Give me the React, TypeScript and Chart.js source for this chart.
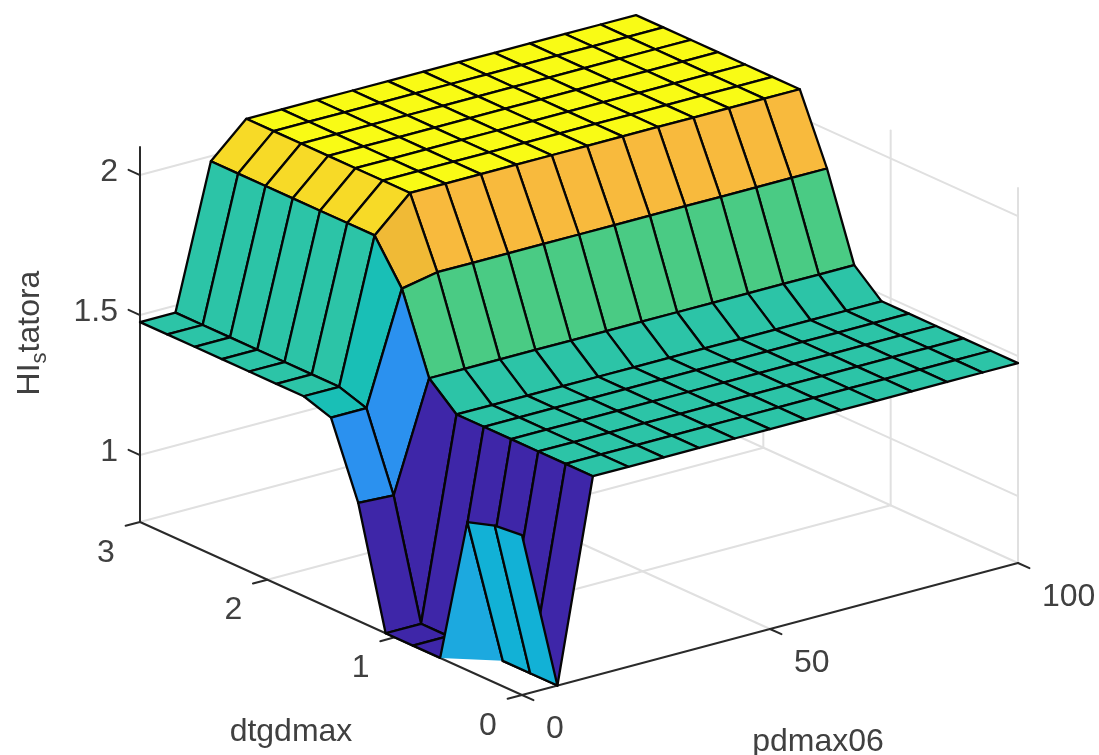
import React, { useEffect, useRef } from "react";
import { Chart, registerables } from "chart.js";

Chart.register(...registerables);

// Axis ticks and labels
const pdTicks = [0, 50, 100];
const dtgTicks = [0, 1, 2, 3];
const zTicks = [1, 1.5, 2];
const zTickLabels = ["1", "1.5", "2"];
const pdLabel = "pdmax06";
const dtgLabel = "dtgdmax";

// Sample positions of the surface
const pdSamples = [0, 7.14, 14.29, 21.43, 28.57, 35.71, 42.86, 50, 57.14, 64.29, 71.43, 78.57, 85.71, 92.86, 100];
const dtgSamples = [0, 0.214, 0.429, 0.643, 0.857, 1.071, 1.286, 1.5, 1.714, 1.929, 2.143, 2.357, 2.571, 2.786, 3];

// Surface height, one list per dtgdmax sample, along pdmax06
const zDtg00 = [1.332, 0.761, 1.475, 1.475, 1.475, 1.475, 1.475, 1.475, 1.475, 1.475, 1.475, 1.475, 1.475, 1.475, 1.475];
const zDtg01 = [1.322, 0.761, 1.475, 1.475, 1.475, 1.475, 1.475, 1.475, 1.475, 1.475, 1.475, 1.475, 1.475, 1.475, 1.475];
const zDtg02 = [1.29, 0.761, 1.475, 1.475, 1.475, 1.475, 1.475, 1.475, 1.475, 1.475, 1.475, 1.475, 1.475, 1.475, 1.475];
const zDtg03 = [0.761, 0.745, 1.475, 1.475, 1.475, 1.475, 1.475, 1.475, 1.475, 1.475, 1.475, 1.475, 1.475, 1.475, 1.475];
const zDtg04 = [0.761, 0.761, 1.475, 1.475, 1.475, 1.475, 1.475, 1.475, 1.475, 1.475, 1.475, 1.475, 1.475, 1.475, 1.475];
const zDtg05 = [0.761, 0.761, 1.475, 1.475, 1.475, 1.475, 1.475, 1.475, 1.475, 1.475, 1.475, 1.475, 1.475, 1.475, 1.475];
const zDtg06 = [1.182, 1.175, 1.56, 1.56, 1.56, 1.56, 1.56, 1.56, 1.56, 1.56, 1.56, 1.56, 1.56, 1.56, 1.56];
const zDtg07 = [1.443, 1.443, 1.836, 1.861, 1.861, 1.861, 1.861, 1.861, 1.861, 1.861, 1.861, 1.861, 1.861, 1.861, 1.861];
const zDtg08 = [1.475, 1.475, 1.982, 2.1, 2.1, 2.1, 2.1, 2.1, 2.1, 2.1, 2.1, 2.1, 2.1, 2.1, 2.1];
const zDtg09 = [1.475, 1.475, 1.982, 2.1, 2.1, 2.1, 2.1, 2.1, 2.1, 2.1, 2.1, 2.1, 2.1, 2.1, 2.1];
const zDtg10 = [1.475, 1.475, 1.982, 2.1, 2.1, 2.1, 2.1, 2.1, 2.1, 2.1, 2.1, 2.1, 2.1, 2.1, 2.1];
const zDtg11 = [1.475, 1.475, 1.982, 2.1, 2.1, 2.1, 2.1, 2.1, 2.1, 2.1, 2.1, 2.1, 2.1, 2.1, 2.1];
const zDtg12 = [1.475, 1.475, 1.982, 2.1, 2.1, 2.1, 2.1, 2.1, 2.1, 2.1, 2.1, 2.1, 2.1, 2.1, 2.1];
const zDtg13 = [1.475, 1.475, 1.982, 2.1, 2.1, 2.1, 2.1, 2.1, 2.1, 2.1, 2.1, 2.1, 2.1, 2.1, 2.1];
const zDtg14 = [1.475, 1.475, 1.982, 2.1, 2.1, 2.1, 2.1, 2.1, 2.1, 2.1, 2.1, 2.1, 2.1, 2.1, 2.1];
const surfaceRows = [zDtg00, zDtg01, zDtg02, zDtg03, zDtg04, zDtg05, zDtg06, zDtg07, zDtg08, zDtg09, zDtg10, zDtg11, zDtg12, zDtg13, zDtg14];

// Parula colour map
const parula: number[][] = [
  [0.2422, 0.1504, 0.6603], [0.2504, 0.165, 0.7076], [0.2578, 0.1818, 0.7511], [0.2647, 0.1978, 0.7952],
  [0.2706, 0.2147, 0.8364], [0.2751, 0.2342, 0.871], [0.2783, 0.2559, 0.8991], [0.2803, 0.2782, 0.9221],
  [0.2813, 0.3006, 0.9414], [0.281, 0.3228, 0.9579], [0.2795, 0.3447, 0.9717], [0.276, 0.3667, 0.9829],
  [0.2699, 0.3892, 0.9906], [0.2602, 0.4123, 0.9952], [0.244, 0.4358, 0.9988], [0.2206, 0.4603, 0.9973],
  [0.1963, 0.4847, 0.9892], [0.1834, 0.5074, 0.9798], [0.1786, 0.5289, 0.9682], [0.1764, 0.5499, 0.952],
  [0.1687, 0.5703, 0.9359], [0.154, 0.5902, 0.9218], [0.146, 0.6091, 0.9079], [0.138, 0.6276, 0.8973],
  [0.1248, 0.6459, 0.8883], [0.1113, 0.6635, 0.8763], [0.0952, 0.6798, 0.8598], [0.0689, 0.6948, 0.8394],
  [0.0297, 0.7082, 0.8163], [0.0036, 0.7203, 0.7917], [0.0067, 0.7312, 0.766], [0.0433, 0.7411, 0.7394],
  [0.0964, 0.75, 0.712], [0.1408, 0.7584, 0.6842], [0.1717, 0.767, 0.6554], [0.1938, 0.7758, 0.6251],
  [0.2161, 0.7843, 0.5923], [0.247, 0.7918, 0.5567], [0.2906, 0.7973, 0.5188], [0.3406, 0.8008, 0.4789],
  [0.3909, 0.8029, 0.4354], [0.4456, 0.8024, 0.3909], [0.5044, 0.7993, 0.348], [0.5616, 0.7942, 0.3045],
  [0.6174, 0.7876, 0.2612], [0.672, 0.7793, 0.2227], [0.7242, 0.7698, 0.191], [0.7738, 0.7598, 0.1646],
  [0.8203, 0.7498, 0.1535], [0.8634, 0.7406, 0.1596], [0.9035, 0.733, 0.1774], [0.9393, 0.7288, 0.21],
  [0.9728, 0.7298, 0.2394], [0.9956, 0.7434, 0.2371], [0.997, 0.7659, 0.2199], [0.9952, 0.7861, 0.1999],
  [0.9892, 0.8086, 0.1816], [0.9786, 0.8303, 0.1658], [0.9676, 0.853, 0.1517], [0.961, 0.8762, 0.1347],
  [0.9597, 0.9006, 0.1162], [0.9628, 0.9279, 0.0956], [0.9691, 0.9559, 0.0715], [0.9769, 0.9839, 0.0805],
];

// Axis limits and the view
const pdMax = 100;
const dtgMax = 3;
const zFloor = 0.761;
const zTop = 2.1;
const W = 1099;
const H = 755;
const view = {
  ox: 522, oy: 695,
  pdX: 496 / pdMax, pdY: -132 / pdMax,
  dtgX: -382 / dtgMax, dtgY: -173 / dtgMax,
  zY: -280,
};

const AXIS = "#2a2a2a";
const INK = "#404040";
const GRID = "#e0e0e0";
const EDGE = "#050505";
const EDGE_WIDTH = 2.3;
const FAMILY = '"Liberation Sans", Arial, sans-serif';
const FONT = `32px ${FAMILY}`;

type P3 = { pd: number; dtg: number; z: number };

function project(pd: number, dtg: number, z: number) {
  return {
    x: view.ox + pd * view.pdX + dtg * view.dtgX,
    y: view.oy + pd * view.pdY + dtg * view.dtgY + (z - zFloor) * view.zY,
  };
}
const proj = (p: P3) => project(p.pd, p.dtg, p.z);

const allZ = surfaceRows.flat();
const zLo = Math.min(...allZ);
const zHi = Math.max(...allZ);

function colorFor(z: number) {
  const t = (z - zLo) / (zHi - zLo);
  const c = parula[Math.min(63, Math.floor(t * 64))];
  return `rgb(${Math.round(c[0] * 255)},${Math.round(c[1] * 255)},${Math.round(c[2] * 255)})`;
}

function lineSet(points: { x: number; y: number }[], color: string, width: number) {
  return {
    data: points,
    showLine: true,
    fill: false,
    borderColor: color,
    borderWidth: width,
    pointRadius: 0,
    tension: 0,
    spanGaps: false,
    borderCapStyle: "round" as const,
    clip: false as const,
  };
}

function clipFace(verts: P3[]) {
  const poly: P3[] = [];
  const edges: { x: number; y: number }[] = [];
  let clipped = false;
  const cross = (a: P3, b: P3): P3 => {
    const t = (zFloor - a.z) / (b.z - a.z);
    return { pd: a.pd + (b.pd - a.pd) * t, dtg: a.dtg + (b.dtg - a.dtg) * t, z: zFloor };
  };
  verts.forEach((a, k) => {
    const b = verts[(k + 1) % verts.length];
    const aIn = a.z >= zFloor;
    const bIn = b.z >= zFloor;
    if (aIn) poly.push(a);
    if (aIn && bIn) {
      edges.push(proj(a), proj(b), { x: NaN, y: NaN });
    } else if (aIn !== bIn) {
      clipped = true;
      const c = cross(a, b);
      poly.push(c);
      edges.push(proj(aIn ? a : c), proj(aIn ? c : b), { x: NaN, y: NaN });
    } else {
      clipped = true;
    }
  });
  return { poly, edges, clipped };
}

function buildDatasets() {
  const sets: any[] = [];
  const grid = (a: number[], b: number[]) =>
    sets.push(lineSet([project(a[0], a[1], a[2]), project(b[0], b[1], b[2])], GRID, 2));

  // floor grid
  dtgTicks.slice(1).forEach((d) => grid([0, d, zFloor], [pdMax, d, zFloor]));
  pdTicks.slice(1).forEach((p) => grid([p, 0, zFloor], [p, dtgMax, zFloor]));
  // back wall at dtgdmax = 3
  pdTicks.slice(1).forEach((p) => grid([p, dtgMax, zFloor], [p, dtgMax, zTop]));
  zTicks.forEach((z) => grid([0, dtgMax, z], [pdMax, dtgMax, z]));
  // side wall at pdmax06 = 100
  dtgTicks.forEach((d) => grid([pdMax, d, zFloor], [pdMax, d, zTop]));
  zTicks.forEach((z) => grid([pdMax, 0, z], [pdMax, dtgMax, z]));

  // axis lines and ticks
  const ruler = (pts: { x: number; y: number }[]) => sets.push(lineSet(pts, AXIS, 2));
  ruler([project(0, dtgMax, zFloor), project(0, dtgMax, zTop)]);
  ruler([project(0, dtgMax, zFloor), project(0, 0, zFloor)]);
  ruler([project(0, 0, zFloor), project(pdMax, 0, zFloor)]);
  zTicks.forEach((z) => ruler([project(0, dtgMax, z), project(0, dtgMax + 0.09, z)]));
  dtgTicks.forEach((d) => ruler([project(0, d, zFloor), project(-2.9, d, zFloor)]));
  pdTicks.forEach((p) => ruler([project(p, 0, zFloor), project(p, -0.09, zFloor)]));

  // surface faces from far to near
  for (let i = pdSamples.length - 2; i >= 0; i--) {
    for (let j = dtgSamples.length - 2; j >= 0; j--) {
      const v = (a: number, b: number): P3 => ({ pd: pdSamples[a], dtg: dtgSamples[b], z: surfaceRows[b][a] });
      const { poly, edges, clipped } = clipFace([v(i, j), v(i + 1, j), v(i + 1, j + 1), v(i, j + 1)]);
      const color = colorFor(surfaceRows[j][i]);
      const pts = poly.map(proj);
      sets.push({
        ...lineSet([...pts, pts[0]], clipped ? color : EDGE, clipped ? 0 : EDGE_WIDTH),
        fill: "shape",
        backgroundColor: color,
        borderJoinStyle: "round",
      });
      if (clipped) sets.push(lineSet(edges, EDGE, EDGE_WIDTH));
    }
  }
  return sets.reverse();
}

const textPlugin = {
  id: "axisText",
  afterDraw(chart: any) {
    const { ctx, scales } = chart;
    const put = (t: string, p: { x: number; y: number }, dx: number, dy: number, align: CanvasTextAlign) => {
      ctx.textAlign = align;
      ctx.fillText(t, scales.x.getPixelForValue(p.x) + dx, scales.y.getPixelForValue(p.y) + dy);
    };
    ctx.save();
    ctx.font = FONT;
    ctx.fillStyle = INK;
    ctx.textBaseline = "middle";
    zTicks.forEach((z, k) => put(zTickLabels[k], project(0, dtgMax, z), -22, -3, "right"));
    dtgTicks.forEach((d) => put(String(d), project(0, d, zFloor), -34, 31, "center"));
    pdTicks.forEach((p) => put(String(p), project(p, 0, zFloor), 24, 34, "left"));

    ctx.textAlign = "center";
    ctx.fillText(dtgLabel, 291, 732);
    ctx.fillText(pdLabel, 818, 742);
    ctx.translate(30, 333);
    ctx.rotate(-Math.PI / 2);
    ctx.textAlign = "left";
    const w1 = ctx.measureText("HI").width;
    const w2 = ctx.measureText("tatora").width;
    ctx.font = `22px ${FAMILY}`;
    const ws = ctx.measureText("s").width;
    const start = -(w1 + ws + w2) / 2;
    ctx.fillText("s", start + w1, 10);
    ctx.font = FONT;
    ctx.fillText("HI", start, 0);
    ctx.fillText("tatora", start + w1 + ws, 0);
    ctx.restore();
  },
};

export default function App() {
  const ref = useRef<HTMLCanvasElement>(null);
  useEffect(() => {
    if (!ref.current) return;
    const chart = new Chart(ref.current, {
      type: "scatter",
      data: { datasets: buildDatasets() },
      options: {
        animation: false,
        responsive: false,
        devicePixelRatio: 1,
        events: [],
        layout: { padding: 0 },
        plugins: { legend: { display: false }, tooltip: { enabled: false }, title: { display: false } },
        scales: {
          x: { type: "linear", min: 0, max: W, display: false },
          y: { type: "linear", min: 0, max: H, reverse: true, display: false },
        },
      },
      plugins: [textPlugin],
    });
    return () => chart.destroy();
  }, []);
  return (
    <div style={{ position: "fixed", left: 0, top: 0, width: W, height: H, background: "#fff" }}>
      <canvas ref={ref} width={W} height={H} style={{ display: "block", width: W, height: H, filter: "blur(0.5px)" }} />
    </div>
  );
}
